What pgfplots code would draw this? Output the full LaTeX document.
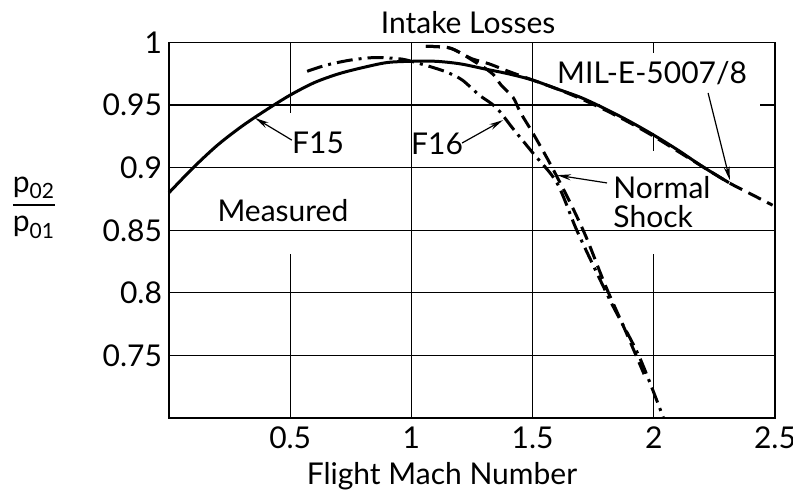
\documentclass[border=0pt]{standalone}
\usepackage{amsmath}
\usepackage{fontspec}
\setmainfont{Lato}
\usepackage{pgfplots}
\pgfplotsset{compat=1.18}
\usetikzlibrary{arrows.meta}

\begin{document}
\begin{tikzpicture}[font=\fontsize{15}{17}\selectfont]
\begin{axis}[
    scale only axis,
    width=303pt, height=187.75pt,
    xmin=0, xmax=2.5,
    ymin=0.7, ymax=1,
    xtick={0.5,1,1.5,2,2.5},
    xticklabels={0.5,1,1.5,2,2.5},
    ytick={0.75,0.8,0.85,0.9,0.95,1},
    yticklabels={0.75,0.8,0.85,0.9,0.95,1},
    major tick length=0pt,
    axis line style={line width=0.7pt},
    tick label style={font=\fontsize{15}{17}\selectfont},
    xticklabel style={yshift=-1pt},
    /pgf/number format/assume math mode=true,
    clip=false,
]
% grid lines, broken where the original has gaps
\begin{scope}[line width=0.6pt]
\draw (axis cs:0,0.75) -- (axis cs:2.5,0.75);
\draw (axis cs:0,0.80) -- (axis cs:2.5,0.80);
\draw (axis cs:0,0.85) -- (axis cs:2.5,0.85);
\draw (axis cs:0,0.90) -- (axis cs:2.5,0.90);
\draw (axis cs:0,0.95) -- (axis cs:1.78,0.95);
\draw (axis cs:2.44,0.95) -- (axis cs:2.5,0.95);
\draw (axis cs:0.5,1) -- (axis cs:0.5,0.944);
\draw (axis cs:0.5,0.831) -- (axis cs:0.5,0.7);
\draw (axis cs:1,1) -- (axis cs:1,0.7);
\draw (axis cs:1.5,1) -- (axis cs:1.5,0.7);
\draw (axis cs:2,1) -- (axis cs:2,0.992);
\draw (axis cs:2,0.928) -- (axis cs:2,0.913);
\draw (axis cs:2,0.831) -- (axis cs:2,0.7);
\end{scope}

% F15 measured
\addplot[black, line width=1.5pt, smooth] coordinates {
(0,0.880)(0.1,0.900)(0.2,0.918)(0.3,0.933)(0.4,0.946)(0.5,0.958)
(0.6,0.968)(0.7,0.975)(0.8,0.980)(0.9,0.984)(1.0,0.985)(1.1,0.985)
(1.2,0.983)(1.3,0.979)(1.4,0.975)(1.5,0.970)(1.6,0.963)(1.7,0.956)
(1.8,0.947)(1.9,0.937)(2.0,0.926)(2.1,0.914)(2.2,0.901)(2.31,0.888)
};

% F16 measured
\addplot[black, line width=1.5pt, smooth,
  dash pattern=on 8pt off 3pt on 1.5pt off 3pt] coordinates {
(0.57,0.977)(0.65,0.982)(0.75,0.986)(0.85,0.988)(0.95,0.987)(1.0,0.985)
(1.09,0.980)(1.15,0.976)(1.21,0.970)(1.28,0.958)(1.35,0.948)(1.42,0.931)
(1.50,0.912)(1.60,0.888)(1.68,0.851)(1.76,0.818)(1.83,0.790)(1.94,0.749)
(2.04,0.700)
};

% MIL-E-5007/8
\addplot[black, line width=1.5pt, smooth, dash pattern=on 7pt off 3.5pt] coordinates {
(1.06,0.997)(1.15,0.996)(1.20,0.992)(1.25,0.987)(1.32,0.983)(1.40,0.977)
(1.50,0.970)(1.60,0.963)(1.70,0.955)(1.80,0.946)(1.90,0.936)(2.00,0.925)
(2.10,0.913)(2.20,0.901)(2.31,0.888)(2.40,0.879)(2.49,0.870)
};

% normal shock
\addplot[black, line width=1.5pt, smooth, dash pattern=on 7pt off 3.5pt] coordinates {
(1.06,0.997)(1.15,0.996)(1.20,0.992)(1.25,0.986)(1.30,0.980)(1.34,0.974)
(1.37,0.966)(1.42,0.956)(1.45,0.944)(1.50,0.928)(1.57,0.904)(1.65,0.874)
(1.72,0.845)(1.80,0.806)(1.88,0.771)(1.96,0.735)
};

% labels and arrows
\node at (axis cs:1.234,1.016) {Intake Losses};
\node at (axis cs:0.470,0.866) {Measured};
\node at (axis cs:0.615,0.9197) {F15};
\node at (axis cs:1.106,0.919) {F16};
\node[anchor=west, align=left, inner sep=0pt, font=\fontsize{15}{14.5}\selectfont]
  at (axis cs:1.832,0.8725) {Normal\\Shock};
\node at (axis cs:1.993,0.9756) {MIL-E-5007/8};
\begin{scope}[line width=0.6pt, -{Stealth[length=7pt,width=3pt]}]
\draw (axis cs:0.507,0.922) -- (axis cs:0.355,0.9397);
\draw (axis cs:1.209,0.9197) -- (axis cs:1.378,0.938);
\draw (axis cs:1.807,0.8878) -- (axis cs:1.601,0.894);
\draw (axis cs:2.224,0.9597) -- (axis cs:2.314,0.890);
\end{scope}
\node at (axis cs:1.126,0.6537) {Flight Mach Number};
\node at (axis cs:-0.557,0.868) {$\dfrac{\text{p}_{\text{02}}}{\text{p}_{\text{01}}}$};
\end{axis}
\pgfresetboundingbox
\path[use as bounding box] (-84.5pt,-38.5pt) rectangle (312pt,209pt);
\end{tikzpicture}
\end{document}
